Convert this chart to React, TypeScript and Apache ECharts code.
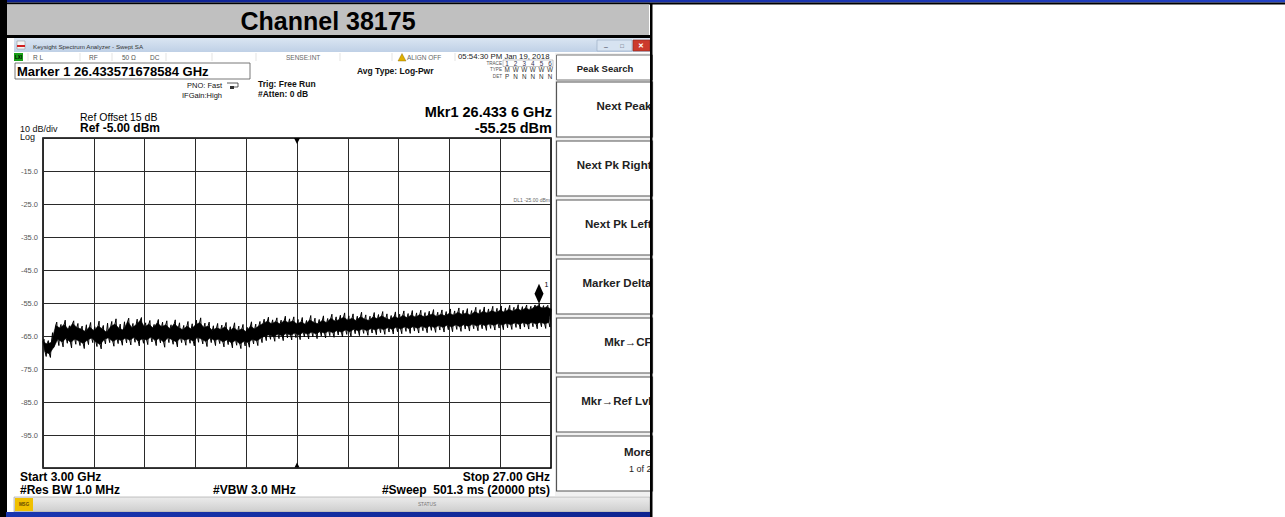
import React, { useEffect, useRef } from 'react';
import * as echarts from 'echarts';

// ---------------- data ----------------
const chartTitle = 'Channel 38175';
const freqStartGHz = 3;
const freqStopGHz = 27;
const refLevelDbm = -5;
const bottomLevelDbm = -105;
const dbPerDiv = 10;
const yTickValues = [-15, -25, -35, -45, -55, -65, -75, -85, -95];
const freqStepGHz = 0.2;

// upper edge of the noise band, one every 0.2 GHz from 3.0 GHz
const traceUpper = [
  -66.8, -67.4, -66.9, -61.8, -62.6, -61.5, -63.0, -61.2, -62.4, -62.9,
  -63.6, -62.2, -63.4, -62.0, -62.8, -63.9, -62.1, -61.4, -62.7, -63.2,
  -60.6, -62.5, -61.6, -60.2, -62.3, -61.4, -62.6, -61.0, -62.2, -61.6,
  -62.8, -61.3, -62.4, -63.1, -62.0, -62.9, -61.7, -60.9, -62.4, -62.0,
  -63.3, -62.5, -63.0, -62.2, -63.6, -62.4, -63.4, -62.8, -63.7, -62.0,
  -62.9, -61.9, -61.2, -60.5, -61.3, -60.6, -61.4, -60.3, -61.0, -60.4,
  -61.4, -60.7, -61.5, -60.1, -60.9, -61.3, -60.2, -61.0, -59.6, -60.5,
  -60.0, -59.3, -60.2, -59.6, -60.4, -59.1, -59.9, -60.3, -59.2, -59.8,
  -58.9, -59.6, -60.1, -59.0, -59.7, -58.7, -59.5, -58.6, -59.3, -58.5,
  -59.2, -58.8, -58.3, -59.1, -58.4, -58.9, -58.1, -58.7, -57.8, -58.5,
  -58.0, -58.7, -57.6, -58.3, -57.5, -58.1, -57.3, -57.9, -57.2, -57.8,
  -56.9, -57.5, -56.7, -57.3, -56.5, -57.1, -56.3, -55.8, -56.6, -56.2,
  -56.8,
];
// lower edge of the noise band, between the upper points (at +0.1 GHz)
const traceLower = [
  -69.9, -70.4, -68.5, -66.0, -66.8, -65.7, -67.0, -65.9, -66.5, -67.3,
  -66.2, -65.6, -66.8, -67.6, -66.0, -65.5, -66.7, -65.9, -66.4, -65.6,
  -66.3, -65.4, -66.6, -65.8, -66.2, -65.3, -66.4, -65.7, -66.9, -65.5,
  -66.1, -66.8, -65.6, -66.3, -65.8, -66.6, -65.4, -66.0, -66.7, -65.5,
  -66.4, -65.9, -66.8, -66.1, -67.1, -66.3, -67.4, -66.6, -67.0, -66.0,
  -66.5, -65.6, -65.0, -64.6, -65.2, -64.4, -65.0, -64.2, -64.8, -64.1,
  -64.7, -63.9, -64.5, -63.8, -64.4, -63.6, -64.2, -63.5, -64.0, -63.3,
  -63.9, -63.1, -63.7, -62.9, -63.5, -62.8, -63.4, -62.7, -63.2, -62.6,
  -63.1, -62.4, -63.0, -62.3, -62.9, -62.2, -62.8, -62.1, -62.7, -62.0,
  -62.6, -61.9, -62.5, -61.8, -62.4, -61.7, -62.3, -61.6, -62.2, -61.5,
  -62.1, -61.4, -62.0, -61.4, -61.9, -61.3, -61.8, -61.2, -61.7, -61.1,
  -61.6, -61.0, -61.5, -60.9, -61.5, -60.8, -61.4, -60.8, -61.3, -60.9,
];
// upward noise spikes (at +0.05 GHz from each upper point)
const spikesUp = [
  -66.0, -66.4, -64.0, -60.8, -61.5, -60.2, -61.9, -60.4, -61.2, -62.0,
  -61.6, -60.9, -62.2, -60.5, -61.8, -61.1, -60.6, -59.8, -61.4, -60.7,
  -59.6, -61.2, -59.9, -59.4, -61.0, -60.3, -61.5, -60.0, -60.8, -60.4,
  -61.6, -60.1, -61.0, -61.8, -60.6, -61.3, -60.2, -59.5, -61.1, -60.8,
  -61.9, -61.2, -61.7, -60.9, -62.2, -61.0, -62.0, -61.5, -62.4, -60.7,
  -61.4, -60.6, -59.9, -59.3, -60.1, -59.5, -60.2, -59.0, -59.8, -59.2,
  -60.0, -59.4, -60.3, -58.8, -59.6, -60.0, -58.9, -59.7, -58.4, -59.2,
  -58.7, -58.0, -58.9, -58.3, -59.0, -57.8, -58.6, -59.0, -57.9, -58.5,
  -57.6, -58.3, -58.8, -57.7, -58.4, -57.4, -58.2, -57.3, -58.0, -57.2,
  -57.9, -57.5, -57.0, -57.8, -57.1, -57.6, -56.8, -57.4, -56.5, -57.2,
  -56.7, -57.3, -56.3, -57.0, -56.2, -56.8, -56.0, -56.6, -55.9, -56.5,
  -55.7, -56.3, -55.5, -56.1, -55.6, -56.0, -55.6, -55.25, -55.8, -55.7,
];
// downward noise spikes (at +0.15 GHz from each upper point)
const spikesDown = [
  -71.2, -71.5, -67.8, -67.9, -68.3, -67.2, -68.6, -67.5, -67.9, -68.8,
  -67.6, -67.0, -68.2, -68.9, -67.4, -67.0, -68.1, -67.3, -67.8, -67.1,
  -67.7, -66.9, -68.0, -67.2, -67.6, -66.8, -67.9, -67.1, -68.4, -67.0,
  -67.5, -68.3, -67.0, -67.8, -67.2, -68.0, -66.9, -67.4, -68.2, -67.0,
  -67.9, -67.3, -68.3, -67.6, -68.6, -67.8, -68.8, -68.0, -68.4, -67.4,
  -67.9, -67.0, -66.4, -66.0, -66.6, -65.8, -66.4, -65.6, -66.2, -65.5,
  -66.1, -65.3, -65.9, -65.2, -65.8, -65.0, -65.6, -64.9, -65.4, -64.7,
  -65.3, -64.5, -65.1, -64.3, -64.9, -64.2, -64.8, -64.1, -64.6, -64.0,
  -64.5, -63.8, -64.4, -63.7, -64.3, -63.6, -64.2, -63.5, -64.1, -63.4,
  -64.0, -63.3, -63.9, -63.2, -63.8, -63.1, -63.7, -63.0, -63.6, -62.9,
  -63.5, -62.8, -63.4, -62.8, -63.3, -62.7, -63.2, -62.6, -63.1, -62.5,
  -63.0, -62.4, -62.9, -62.3, -62.9, -62.2, -62.8, -62.2, -62.7, -62.3,
];

const marker1FreqGHz = 26.433571678584;
const marker1LevelDbm = -55.25;
const centerFreqGHz = 15;
const displayLineDbm = -25;

const traceNumbers = ['1', '2', '3', '4', '5', '6'];
const traceTypes = ['M', 'W', 'W', 'W', 'W', 'W'];
const traceDetectors = ['P', 'N', 'N', 'N', 'N', 'N'];

const softkeyHeader = 'Peak Search';
const softkeys = ['Next Peak', 'Next Pk Right', 'Next Pk Left', 'Marker Delta', 'Mkr\u2192CF', 'Mkr\u2192Ref Lvl', 'More'];

// ---------------- helpers ----------------
const FONT = 'Liberation Sans, Arial, sans-serif';

function txt(x: number, y: number, text: string, size: number, opts: any = {}) {
  return {
    type: 'text',
    x,
    y,
    z: opts.z ?? 50,
    silent: true,
    style: {
      text,
      fill: opts.color ?? '#000',
      fontSize: size,
      fontWeight: opts.bold ? 'bold' : 'normal',
      fontFamily: FONT,
      align: opts.align ?? 'left',
      verticalAlign: 'middle',
    },
  };
}

function rect(x: number, y: number, w: number, h: number, style: any, z = 1) {
  return { type: 'rect', z, silent: true, shape: { x, y, width: w, height: h }, style };
}

function line(x1: number, y1: number, x2: number, y2: number, stroke: string, lineWidth = 1, z = 5) {
  return { type: 'line', z, silent: true, shape: { x1, y1, x2, y2 }, style: { stroke, lineWidth } };
}

export default function App() {
  const ref = useRef<HTMLDivElement>(null);

  useEffect(() => {
    document.body.style.margin = '0';
    if (!ref.current) return;
    const chart = echarts.init(ref.current, undefined, { renderer: 'svg' });

    const traceData: number[][] = [];
    traceUpper.forEach((u, i) => {
      const f = freqStartGHz + i * freqStepGHz;
      traceData.push([f, u]);
      if (i < traceLower.length) {
        traceData.push([f + freqStepGHz * 0.25, spikesUp[i]]);
        traceData.push([f + freqStepGHz * 0.5, traceLower[i]]);
        traceData.push([f + freqStepGHz * 0.75, spikesDown[i]]);
      }
    });

    const mkrFreq4 = marker1FreqGHz.toFixed(4);
    const mkrFreqText = `${mkrFreq4.slice(0, -1)} ${mkrFreq4.slice(-1)}`;

    const graphic: any[] = [];
    // outer frame
    graphic.push(rect(0, 0, 1285, 2.5, { fill: new echarts.graphic.LinearGradient(0, 0, 1, 0, [{ offset: 0, color: '#0c1f8e' }, { offset: 1, color: '#2442c4' }]) }, 1));
    graphic.push(rect(0, 2.5, 1285, 2, { fill: '#000' }, 1));
    graphic.push(rect(0, 0, 7, 517, { fill: '#000' }, 1));
    graphic.push(rect(7, 4.5, 642, 31, { fill: '#c0c0c0' }, 1));
    graphic.push(rect(0, 35, 652, 3, { fill: '#000' }, 1));
    graphic.push(txt(328, 20.5, chartTitle, 25, { bold: true, align: 'center' }));

    // window title bar
    graphic.push(rect(14, 38, 636, 14, { fill: new echarts.graphic.LinearGradient(0, 0, 0, 1, [{ offset: 0, color: '#dae5f2' }, { offset: 1, color: '#bfd0e6' }]) }, 2));
    graphic.push(rect(17, 41, 8, 8, { fill: '#f4f4f4', stroke: '#888', lineWidth: 0.5 }, 3));
    graphic.push(rect(17, 45, 8, 2, { fill: '#d02020' }, 4));
    graphic.push(txt(33, 46.5, 'Keysight Spectrum Analyzer - Swept SA', 6.2, { color: '#333' }));
    graphic.push(rect(597, 40, 35, 11, { fill: '#d7e3f1', stroke: '#93a7c0', lineWidth: 0.6 }, 3));
    graphic.push(txt(606, 46, '\u2013', 7, { color: '#445', align: 'center' }));
    graphic.push(txt(622, 45.5, '\u25a1', 6, { color: '#445', align: 'center' }));
    graphic.push(rect(633, 40, 17, 11, { fill: '#cc3a2c', stroke: '#8a2a20', lineWidth: 0.6 }, 3));
    graphic.push(txt(641, 45.5, '\u2715', 7, { color: '#fff', align: 'center', bold: true }));

    // status row
    graphic.push(rect(14, 52, 636, 10, { fill: '#fff' }, 2));
    graphic.push(rect(14, 53, 9, 8, { fill: '#18a018' }, 3));
    graphic.push(txt(18.5, 57, 'LXI', 4.5, { color: '#000', align: 'center', bold: true }));
    [28, 80, 112, 166, 212, 256, 340, 392, 455].forEach((x) => graphic.push(line(x, 53, x, 61, '#d0d0d0', 0.6, 3)));
    graphic.push(txt(33, 57, 'R L', 6.5, { color: '#555' }));
    graphic.push(txt(89, 57, 'RF', 6.5, { color: '#555' }));
    graphic.push(txt(122, 57, '50 \u03a9', 6.5, { color: '#555' }));
    graphic.push(txt(150, 57, 'DC', 6.5, { color: '#555' }));
    graphic.push(txt(286, 57, 'SENSE:INT', 6.5, { color: '#666' }));
    graphic.push({ type: 'polygon', z: 4, silent: true, shape: { points: [[398, 61], [402, 53.5], [406, 61]] }, style: { fill: '#e0b000', stroke: '#806000', lineWidth: 0.4 } });
    graphic.push(txt(407, 57, 'ALIGN OFF', 6.5, { color: '#666' }));
    graphic.push(txt(458, 56.5, '05:54:30 PM Jan 19, 2018', 7.8, { color: '#222' }));

    // trace info block
    graphic.push(txt(502, 63, 'TRACE', 4.6, { color: '#555', align: 'right' }));
    graphic.push(txt(502, 69.5, 'TYPE', 4.6, { color: '#555', align: 'right' }));
    graphic.push(txt(502, 76, 'DET', 4.6, { color: '#555', align: 'right' }));
    graphic.push(rect(503, 60, 50, 6.5, { fill: 'none', stroke: '#888', lineWidth: 0.5 }, 3));
    traceNumbers.forEach((t, k) => graphic.push(txt(507 + 8.6 * k, 63.3, t, 6.3, { color: '#335', align: 'center' })));
    traceTypes.forEach((t, k) => graphic.push(txt(507 + 8.6 * k, 69.8, t, 6.3, { color: '#333', align: 'center' })));
    traceDetectors.forEach((t, k) => graphic.push(txt(507 + 8.6 * k, 76.3, t, 6.3, { color: '#333', align: 'center' })));

    // marker / settings annotations
    graphic.push(rect(15, 63, 235, 16, { fill: 'none', stroke: '#555', lineWidth: 0.8 }, 3));
    graphic.push(txt(17, 71, `Marker 1 ${marker1FreqGHz} GHz`, 13, { bold: true }));
    graphic.push(txt(222, 85, 'PNO: Fast', 7.5, { align: 'right', color: '#111' }));
    graphic.push(txt(222, 95, 'IFGain:High', 7.5, { align: 'right', color: '#111' }));
    graphic.push({ type: 'polyline', z: 4, silent: true, shape: { points: [[227, 83], [238, 83], [238, 87], [234, 87]] }, style: { stroke: '#333', lineWidth: 0.8, fill: 'none' } });
    graphic.push(rect(230, 86, 4, 3, { fill: '#333' }, 4));
    graphic.push(txt(258, 84, 'Trig: Free Run', 8.5, { bold: true, color: '#111' }));
    graphic.push(txt(258, 94, '#Atten: 0 dB', 8.5, { bold: true, color: '#111' }));
    graphic.push(txt(357, 71, 'Avg Type: Log-Pwr', 8.5, { bold: true, color: '#111' }));
    graphic.push(txt(80, 117, 'Ref Offset 15 dB', 10.5, { color: '#000' }));
    graphic.push(txt(20, 129, `${dbPerDiv} dB/div`, 9, { color: '#111' }));
    graphic.push(txt(80, 128, `Ref ${refLevelDbm.toFixed(2)} dBm`, 12, { bold: true }));
    graphic.push(txt(20, 136.5, 'Log', 9, { color: '#111' }));
    graphic.push(txt(552, 112, `Mkr1 ${mkrFreqText} GHz`, 14.5, { bold: true, align: 'right' }));
    graphic.push(txt(552, 128, `${marker1LevelDbm.toFixed(2)} dBm`, 14.5, { bold: true, align: 'right' }));
    graphic.push(txt(550, 200, `DL1 ${displayLineDbm.toFixed(2)} dBm`, 5, { color: '#666', align: 'right' }));

    // bottom annotations
    graphic.push(txt(20, 477, `Start ${freqStartGHz.toFixed(2)} GHz`, 12, { bold: true }));
    graphic.push(txt(20, 490, '#Res BW 1.0 MHz', 12, { bold: true }));
    graphic.push(txt(213, 490, '#VBW 3.0 MHz', 12, { bold: true }));
    graphic.push(txt(550, 477, `Stop ${freqStopGHz.toFixed(2)} GHz`, 12, { bold: true, align: 'right' }));
    graphic.push(txt(550, 490, '#Sweep  501.3 ms (20000 pts)', 12, { bold: true, align: 'right' }));

    // bottom status bar
    graphic.push(rect(14, 497, 636, 15, { fill: new echarts.graphic.LinearGradient(0, 0, 0, 1, [{ offset: 0, color: '#ececec' }, { offset: 1, color: '#cdcdcd' }]), stroke: '#9a9a9a', lineWidth: 0.6 }, 2));
    graphic.push(rect(15, 498, 18, 13, { fill: '#f0c000' }, 3));
    graphic.push(txt(24, 504.5, 'MSG', 4.5, { color: '#6a4a00', align: 'center', bold: true }));
    graphic.push(txt(427, 504.5, 'STATUS', 4.8, { color: '#777', align: 'center' }));
    graphic.push(rect(6, 512, 646, 5, { fill: new echarts.graphic.LinearGradient(0, 0, 1, 0, [{ offset: 0, color: '#1a36b0' }, { offset: 1, color: '#0e2490' }]) }, 2));

    // softkey panel
    graphic.push(rect(555, 53, 95, 443, { fill: '#f1f1f1' }, 2));
    graphic.push(rect(556.5, 55, 96, 25, { fill: '#fff', stroke: '#777', lineWidth: 1 }, 3));
    graphic.push(txt(605, 68, softkeyHeader, 9.5, { bold: true, color: '#222', align: 'center' }));
    softkeys.forEach((label, i) => {
      const top = 82 + 59 * i;
      graphic.push(rect(556.5, top, 96, 55, { fill: '#fff', stroke: '#555', lineWidth: 1.2 }, 3));
      if (label === 'More') {
        graphic.push(txt(651.5, top + 16, label, 11.5, { bold: true, color: '#222', align: 'right' }));
        graphic.push(txt(651.5, top + 33, '1 of 2', 9, { color: '#222', align: 'right' }));
      } else {
        graphic.push(txt(651.5, top + 24, label, 11.5, { bold: true, color: '#222', align: 'right' }));
      }
    });

    // right black frame edge (on top, clips softkey labels)
    graphic.push(rect(650, 3, 2.5, 514, { fill: '#000' }, 200));

    const option: any = {
      animation: false,
      backgroundColor: '#fff',
      grid: {
        left: 43,
        top: 138,
        width: 508,
        height: 330,
        show: true,
        backgroundColor: '#fff',
        borderColor: '#000',
        borderWidth: 1.6,
      },
      xAxis: [
        {
          type: 'value',
          min: freqStartGHz,
          max: freqStopGHz,
          axisLine: { show: false },
          axisTick: { show: false },
          axisLabel: { show: false },
          splitLine: { show: false },
        },
        {
          type: 'value',
          min: 0,
          max: 10,
          interval: 1,
          axisLine: { show: false },
          axisTick: { show: false },
          axisLabel: { show: false },
          splitLine: { show: true, lineStyle: { color: '#2a2a2a', width: 1 } },
        },
      ],
      yAxis: [
        {
          type: 'value',
          min: bottomLevelDbm,
          max: refLevelDbm,
          axisLine: { show: false },
          axisTick: { show: false },
          splitLine: { show: false },
          axisLabel: {
            customValues: yTickValues,
            formatter: (v: number) => v.toFixed(1),
            fontSize: 7.5,
            color: '#555',
            fontFamily: FONT,
            margin: 5,
          },
        },
        {
          type: 'value',
          min: 0,
          max: 10,
          interval: 1,
          axisLine: { show: false },
          axisTick: { show: false },
          axisLabel: { show: false },
          splitLine: { show: true, lineStyle: { color: '#2a2a2a', width: 1 } },
        },
      ],
      graphic,
      series: [
        {
          // solid core of the noise band, between its upper and lower edges
          type: 'custom',
          xAxisIndex: 0,
          yAxisIndex: 0,
          silent: true,
          z: 19,
          data: [[freqStartGHz, traceUpper[0]]],
          renderItem: (_params: any, api: any) => {
            const pts: number[][] = [];
            traceUpper.forEach((u, i) => pts.push(api.coord([freqStartGHz + i * freqStepGHz, u])));
            for (let i = traceLower.length - 1; i >= 0; i--) {
              pts.push(api.coord([freqStartGHz + i * freqStepGHz + freqStepGHz / 2, traceLower[i]]));
            }
            return { type: 'polygon', shape: { points: pts }, style: { fill: '#000', stroke: '#000', lineWidth: 0.6 } };
          },
        },
        {
          type: 'line',
          xAxisIndex: 0,
          yAxisIndex: 0,
          data: traceData,
          symbol: 'none',
          silent: true,
          z: 20,
          lineStyle: { color: '#000', width: 1 },
          markPoint: {
            silent: true,
            z: 30,
            data: [
              {
                coord: [marker1FreqGHz, marker1LevelDbm],
                symbol: 'diamond',
                symbolSize: [9, 20],
                symbolOffset: [0, -10],
                itemStyle: { color: '#000' },
                label: { show: true, formatter: '1', position: [10, -3], fontSize: 7, color: '#000', fontFamily: FONT },
              },
              {
                coord: [centerFreqGHz, refLevelDbm],
                symbol: 'triangle',
                symbolRotate: 180,
                symbolSize: [6, 6],
                symbolOffset: [0, 3],
                itemStyle: { color: '#000' },
                label: { show: false },
              },
              {
                coord: [centerFreqGHz, bottomLevelDbm],
                symbol: 'triangle',
                symbolSize: [5, 5],
                symbolOffset: [0, -3],
                itemStyle: { color: '#000' },
                label: { show: false },
              },
            ],
          },
        },
      ],
    };

    chart.setOption(option);
    return () => chart.dispose();
  }, []);

  return <div ref={ref} style={{ width: 1285, height: 517 }} />;
}
